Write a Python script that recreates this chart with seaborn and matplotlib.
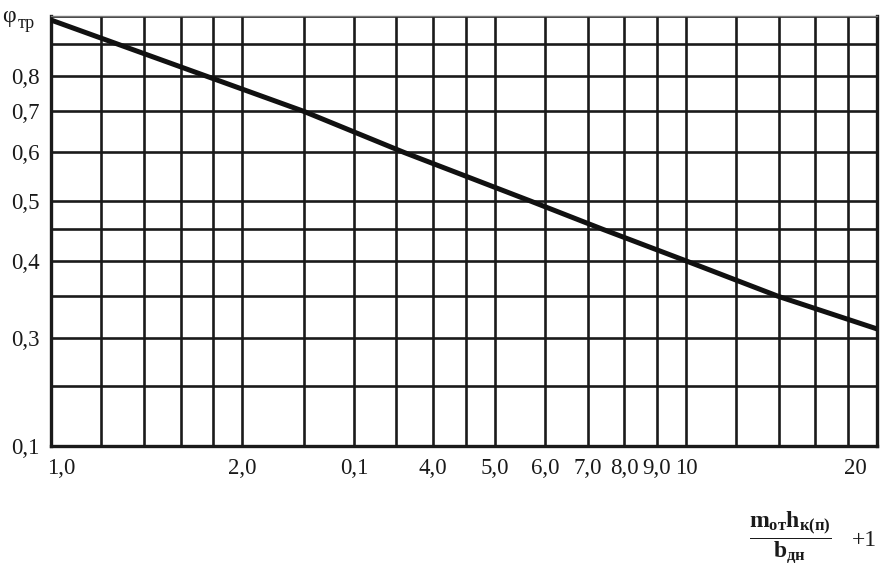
import matplotlib
matplotlib.use("Agg")
import matplotlib.pyplot as plt
import matplotlib.transforms as mtransforms
from matplotlib.ticker import FixedLocator, NullFormatter
import seaborn as sns
import pandas as pd

# ---- data ----
x_vals = [1.0, 2.5, 3.6, 5.7, 7.4, 10.0, 14.0, 20.0]
y_vals = [0.985, 0.70, 0.60, 0.50, 0.45, 0.40, 0.35, 0.31]

x_grid = [1, 1.2, 1.4, 1.6, 1.8, 2, 2.5, 3, 3.5, 4, 4.5, 5, 6, 7, 8, 9, 10, 12, 14, 16, 18, 20]
x_tick_pos = [1, 2, 3, 4, 5, 6, 7, 8, 9, 10, 20]
x_tick_labels = ["1,0", "2,0", "0,1", "4,0", "5,0", "6,0", "7,0", "8,0", "9,0", "10", "20"]

y_grid = [0.2, 0.25, 0.3, 0.35, 0.4, 0.45, 0.5, 0.6, 0.7, 0.8, 0.9, 1.0]
y_tick_pos = [0.2, 0.3, 0.4, 0.5, 0.6, 0.7, 0.8]
y_tick_labels = ["0,1", "0,3", "0,4", "0,5", "0,6", "0,7", "0,8"]

sns.set_style("white")
plt.rcParams["font.family"] = ["Liberation Serif", "DejaVu Serif"]
plt.rcParams["mathtext.fontset"] = "custom"
plt.rcParams["mathtext.rm"] = "Liberation Serif"
plt.rcParams["mathtext.bf"] = "Liberation Serif:bold"
plt.rcParams["mathtext.it"] = "Liberation Serif:italic"

W, H = 885, 569
fig = plt.figure(figsize=(W / 100, H / 100), dpi=100)
ax = fig.add_axes([51 / W, 1 - 446 / H, (877 - 51) / W, (446 - 16) / H])

df = pd.DataFrame({"x": x_vals, "y": y_vals})
sns.lineplot(data=df, x="x", y="y", ax=ax, color="#111111", linewidth=3.6, zorder=5)

ax.set_xscale("log")
ax.set_yscale("log")
ax.set_xlim(1, 20)
ax.set_ylim(0.2, 1.0)

ax.xaxis.set_major_locator(FixedLocator(x_tick_pos))
ax.xaxis.set_minor_locator(FixedLocator([v for v in x_grid if v not in x_tick_pos]))
ax.set_xticks(x_tick_pos, x_tick_labels)
ax.xaxis.set_minor_formatter(NullFormatter())

ax.yaxis.set_major_locator(FixedLocator(y_tick_pos))
ax.yaxis.set_minor_locator(FixedLocator([v for v in y_grid if v not in y_tick_pos]))
ax.set_yticks(y_tick_pos, y_tick_labels)
ax.yaxis.set_minor_formatter(NullFormatter())

ax.grid(True, which="both", color="#1a1a1a", linewidth=1.9)
ax.tick_params(which="both", length=0, labelsize=16.5, colors="#1a1a1a")
ax.tick_params(axis="x", pad=9)
ax.tick_params(axis="y", pad=8)
ax.set_xlabel("")
ax.set_ylabel("")

for side in ["left", "right", "bottom"]:
    ax.spines[side].set_visible(True)
    ax.spines[side].set_color("#1a1a1a")
    ax.spines[side].set_linewidth(2.4)
ax.spines["top"].set_color("#777777")
ax.spines["top"].set_linewidth(1.0)

# adjust first and last x tick label alignment
xt = ax.get_xticklabels()
xt[0].set_horizontalalignment("left")
xt[0].set_transform(xt[0].get_transform() + mtransforms.ScaledTranslation(-4 / 100, 0, fig.dpi_scale_trans))
xt[-1].set_horizontalalignment("right")
xt[-1].set_transform(xt[-1].get_transform() + mtransforms.ScaledTranslation(-10 / 100, 0, fig.dpi_scale_trans))

# y-axis title (phi_tr)
fig.text(2 / W, 1 - 22 / H, "φ", fontsize=17, ha="left", va="baseline", color="#1a1a1a")
fig.text(18 / W, 1 - 28 / H, "тр", fontsize=13, ha="left", va="baseline", color="#1a1a1a")

# x-axis title (fraction)
fig.text(790 / W, 1 - 538 / H,
         r"$\dfrac{\mathbf{m}_{\mathbf{от}}\mathbf{h}_{\mathbf{к(п)}}}{\mathbf{b}_{\mathbf{дн}}}$",
         fontsize=17, ha="center", va="center", color="#1a1a1a")
fig.text(852 / W, 1 - 540 / H, "+1", fontsize=17, ha="left", va="center",
         color="#1a1a1a")

fig.savefig("out.png", dpi=100)
